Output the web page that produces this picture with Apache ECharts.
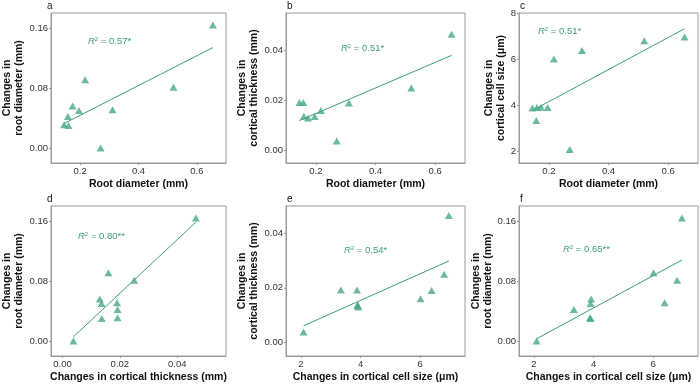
<!DOCTYPE html>
<html>
<head>
<meta charset="utf-8">
<script src="https://cdn.jsdelivr.net/npm/echarts@6/dist/echarts.min.js"></script>
<style>
  html, body { margin: 0; padding: 0; background: #fff; }
  #chart { width: 700px; height: 386px; }
</style>
</head>
<body>
<div id="chart"></div>
<script>
// per-sample values
const rootDiameter = [0.655, 0.52, 0.217, 0.174, 0.196, 0.311, 0.158, 0.145, 0.16, 0.27];
const dRootDiameter = [0.164, 0.081, 0.091, 0.056, 0.050, 0.051, 0.042, 0.031, 0.030, 0.000];
const dCorticalThickness = [0.0465, 0.025, 0.016, 0.0130, 0.0136, 0.019, 0.0192, 0.0192, 0.0137, 0.0038];
const dCellSize = [6.96, 6.80, 6.01, 3.92, 3.90, 6.38, 3.34, 3.88, 3.90, 2.09];

const r2Labels = ['0.57*', '0.51*', '0.51*', '0.80**', '0.54*', '0.65**'];
const panelLetters = ['a', 'b', 'c', 'd', 'e', 'f'];

const rdTicks = [0.2, 0.4, 0.6];
const dRdTicks = [0, 0.08, 0.16];
const dCtTicks = [0, 0.02, 0.04];
const dCsTicks = [2, 4, 6];
const dCsTicksY = [2, 4, 6, 8];

const green = '#47a983';
const lineGreen = '#3c9d78';
const font = 'Liberation Sans, Arial, sans-serif';

// axis definitions
const axRD = { name: 'Root diameter (mm)', min: 0.1, max: 0.7, ticks: rdTicks, dec: 1 };
const axDRD = { name: 'Changes in\nroot diameter (mm)', min: -0.02, max: 0.18, ticks: dRdTicks, dec: 2 };
const axDCTy = { name: 'Changes in\ncortical thickness (mm)', min: -0.005, max: 0.055, ticks: dCtTicks, dec: 2 };
const axDCTy2 = { name: 'Changes in\ncortical thickness (mm)', min: -0.005, max: 0.05, ticks: dCtTicks, dec: 2 };
const axDCSy = { name: 'Changes in\ncortical cell size (μm)', min: 1.5, max: 8, ticks: dCsTicksY, dec: 0 };
const axDCTx = { name: 'Changes in cortical thickness (mm)', min: -0.004, max: 0.057, ticks: dCtTicks, dec: 2 };
const axDCSx = { name: 'Changes in cortical cell size (μm)', min: 1.5, max: 7.5, ticks: dCsTicks, dec: 0 };

const panels = [
  { x: rootDiameter, y: dRootDiameter, ax: axRD, ay: axDRD, g: [46, 13, 180, 150], r2: [88, 43] },
  { x: rootDiameter, y: dCorticalThickness, ax: axRD, ay: axDCTy, g: [286, 13, 179, 150], r2: [341, 50] },
  { x: rootDiameter, y: dCellSize, ax: axRD, ay: axDCSy, g: [519, 13, 179, 150], r2: [538, 33] },
  { x: dCorticalThickness, y: dRootDiameter, ax: axDCTx, ay: axDRD, g: [46, 206, 180, 150], r2: [78, 238] },
  { x: dCellSize, y: dCorticalThickness, ax: axDCSx, ay: axDCTy2, g: [286, 206, 179, 150], r2: [344, 252] },
  { x: dCellSize, y: dRootDiameter, ax: axDCSx, ay: axDRD, g: [519, 206, 179, 150], r2: [563, 251] }
];

function fit(xs, ys) {
  const n = xs.length;
  const mx = xs.reduce((a, b) => a + b, 0) / n;
  const my = ys.reduce((a, b) => a + b, 0) / n;
  let sxy = 0, sxx = 0;
  for (let i = 0; i < n; i++) {
    sxy += (xs[i] - mx) * (ys[i] - my);
    sxx += (xs[i] - mx) * (xs[i] - mx);
  }
  const k = sxy / sxx;
  const x0 = Math.min(...xs), x1 = Math.max(...xs);
  return [[x0, my + k * (x0 - mx)], [x1, my + k * (x1 - mx)]];
}

const grid = [], xAxis = [], yAxis = [], series = [], graphic = [];

function axisBase(a) {
  return {
    type: 'value',
    min: a.min,
    max: a.max,
    name: a.name,
    nameLocation: 'middle',
    nameTextStyle: { fontFamily: font, fontSize: 10.5, fontWeight: 'bold', color: '#111', lineHeight: 12 },
    axisLine: { show: true, onZero: false, lineStyle: { color: '#9a9a9a', width: 1 } },
    axisTick: { show: true, length: 2, customValues: a.ticks, lineStyle: { color: '#9a9a9a' } },
    axisLabel: {
      customValues: a.ticks,
      margin: 3,
      fontFamily: font,
      fontSize: 9.5,
      color: '#333',
      formatter: v => Number(v).toFixed(a.dec)
    },
    splitLine: { show: false }
  };
}

panels.forEach((p, i) => {
  grid.push({
    left: p.g[0], top: p.g[1], width: p.g[2], height: p.g[3],
    show: true, borderColor: '#9a9a9a', borderWidth: 1, backgroundColor: 'transparent'
  });
  xAxis.push(Object.assign(axisBase(p.ax), { gridIndex: i, nameGap: 15 }));
  yAxis.push(Object.assign(axisBase(p.ay), { gridIndex: i, nameGap: i % 3 === 2 ? 12 : 26 }));
  series.push({
    type: 'line',
    xAxisIndex: i, yAxisIndex: i,
    data: fit(p.x, p.y),
    showSymbol: false,
    silent: true,
    lineStyle: { color: lineGreen, width: 1 },
    z: 2
  });
  series.push({
    type: 'scatter',
    xAxisIndex: i, yAxisIndex: i,
    symbol: 'triangle',
    symbolSize: [8, 7],
    itemStyle: { color: green },
    data: p.x.map((v, j) => [v, p.y[j]]),
    z: 3
  });
  graphic.push({
    type: 'text',
    left: p.r2[0], top: p.r2[1] - 7,
    style: {
      text: '{i|R}{s|2}{n| = ' + r2Labels[i] + '}',
      fill: lineGreen,
      rich: {
        i: { fontFamily: font, fontStyle: 'italic', fontSize: 9.5, fill: lineGreen },
        s: { fontFamily: font, fontSize: 6, fill: lineGreen, verticalAlign: 'top', padding: [0, 0, 5, 0] },
        n: { fontFamily: font, fontSize: 9.5, fill: lineGreen }
      }
    }
  });
  graphic.push({
    type: 'text',
    left: p.g[0] + 1, top: p.g[1] - 12,
    style: { text: panelLetters[i], font: '10px ' + font, fill: '#111' }
  });
});

const chart = echarts.init(document.getElementById('chart'));
chart.setOption({
  backgroundColor: '#fff',
  animation: false,
  grid, xAxis, yAxis, series, graphic
});
</script>
</body>
</html>
